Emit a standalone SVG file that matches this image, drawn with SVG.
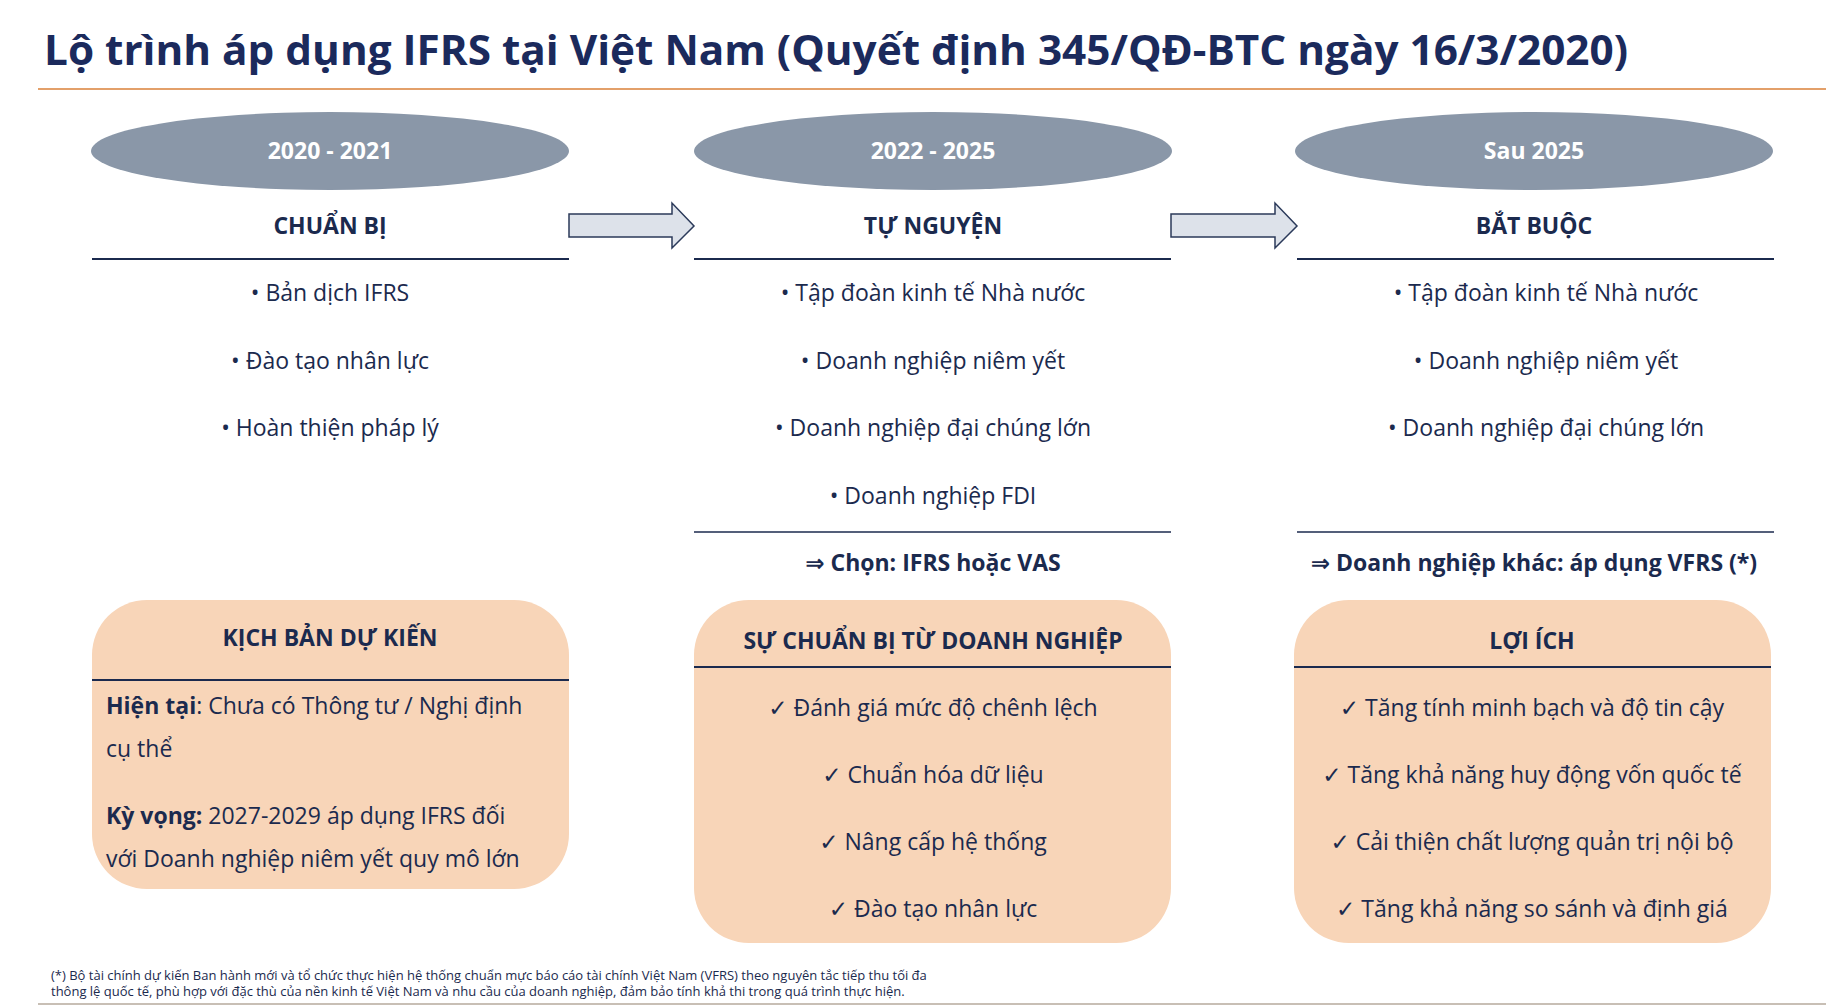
<svg xmlns="http://www.w3.org/2000/svg" width="1844" height="1006" viewBox="0 0 1844 1006">
<style>
text{font-family:"Open Sans","Noto Sans","DejaVu Sans",sans-serif;fill:#1B2A4E}
.t{font-size:42px;font-weight:700;fill:#1B2A5C}
.yr{font-size:23px;font-weight:700;fill:#fff;text-anchor:middle}
.h{font-size:23px;font-weight:700;text-anchor:middle}
.b{font-size:23px;text-anchor:middle}
.bl{font-size:23px}
.fn{font-size:13px}
.ell{fill:#8A97A8}
.box{fill:#F8D5B8}
.ln{stroke:#1B2A4E;stroke-width:2}
.arr{fill:#DDE2EA;stroke:#2B3A5A;stroke-width:1.5}
</style>
<text class="t" x="44" y="65" textLength="1584" lengthAdjust="spacingAndGlyphs">Lộ trình áp dụng IFRS tại Việt Nam (Quyết định 345/QĐ-BTC ngày 16/3/2020)</text>
<line x1="38" y1="89" x2="1826" y2="89" stroke="#E3A06A" stroke-width="2"/>

<g id="connectors">
<path class="arr" d="M569 214 H672 V203 L694 226 L672 248 V237 H569 Z"/>
<path class="arr" d="M1171 214 H1275 V203 L1297 226 L1275 248 V237 H1171 Z"/>
</g>

<g id="col1">
<ellipse class="ell" cx="330" cy="151" rx="239" ry="39"/>
<text class="yr" x="330" y="159">2020 - 2021</text>
<text class="h" x="330" y="234">CHUẨN BỊ</text>
<line class="ln" x1="92" y1="259" x2="569" y2="259"/>
<text class="b" x="330" y="301">•   Bản dịch IFRS</text>
<text class="b" x="330" y="369">•   Đào tạo nhân lực</text>
<text class="b" x="330" y="436">•   Hoàn thiện pháp lý</text>
</g>
<g id="col2">
<ellipse class="ell" cx="933" cy="151" rx="239" ry="39"/>
<text class="yr" x="933" y="159">2022 - 2025</text>
<text class="h" x="933" y="234">TỰ NGUYỆN</text>
<line class="ln" x1="694" y1="259" x2="1171" y2="259"/>
<text class="b" x="933" y="301">•   Tập đoàn kinh tế Nhà nước</text>
<text class="b" x="933" y="369">•   Doanh nghiệp niêm yết</text>
<text class="b" x="933" y="436">•   Doanh nghiệp đại chúng lớn</text>
<text class="b" x="933" y="504">•   Doanh nghiệp FDI</text>
<line x1="694" y1="532" x2="1171" y2="532" stroke="#1B2A4E" stroke-width="1.5"/>
<text class="h" x="933" y="571">⇒ Chọn: IFRS hoặc VAS</text>
</g>
<g id="col3">
<ellipse class="ell" cx="1534" cy="151" rx="239" ry="39"/>
<text class="yr" x="1534" y="159">Sau 2025</text>
<text class="h" x="1534" y="234">BẮT BUỘC</text>
<line class="ln" x1="1297" y1="259" x2="1774" y2="259"/>
<text class="b" x="1546" y="301">•   Tập đoàn kinh tế Nhà nước</text>
<text class="b" x="1546" y="369">•   Doanh nghiệp niêm yết</text>
<text class="b" x="1546" y="436">•   Doanh nghiệp đại chúng lớn</text>
<line x1="1297" y1="532" x2="1774" y2="532" stroke="#1B2A4E" stroke-width="1.5"/>
<text class="h" x="1534" y="571">⇒ Doanh nghiệp khác: áp dụng VFRS (*)</text>
</g>

<g id="box1">
<rect class="box" x="92" y="600" width="477" height="289" rx="55"/>
<text class="h" x="330" y="646">KỊCH BẢN DỰ KIẾN</text>
<line class="ln" x1="92" y1="680" x2="569" y2="680"/>
<text class="bl" x="106" y="714"><tspan font-weight="700">Hiện tại</tspan>: Chưa có Thông tư / Nghị định</text>
<text class="bl" x="106" y="757">cụ thể</text>
<text class="bl" x="106" y="824"><tspan font-weight="700">Kỳ vọng:</tspan> 2027-2029 áp dụng IFRS đối</text>
<text class="bl" x="106" y="867">với Doanh nghiệp niêm yết quy mô lớn</text>
</g>
<g id="box2">
<rect class="box" x="694" y="600" width="477" height="343" rx="55"/>
<text class="h" x="933" y="649">SỰ CHUẨN BỊ TỪ DOANH NGHIỆP</text>
<line class="ln" x1="694" y1="667" x2="1171" y2="667"/>
<text class="b" x="933" y="716">✓ Đánh giá mức độ chênh lệch</text>
<text class="b" x="933" y="783">✓ Chuẩn hóa dữ liệu</text>
<text class="b" x="933" y="850">✓ Nâng cấp hệ thống</text>
<text class="b" x="933" y="917">✓ Đào tạo nhân lực</text>
</g>
<g id="box3">
<rect class="box" x="1294" y="600" width="477" height="343" rx="55"/>
<text class="h" x="1532" y="649">LỢI ÍCH</text>
<line class="ln" x1="1294" y1="667" x2="1771" y2="667"/>
<text class="b" x="1532" y="716">✓ Tăng tính minh bạch và độ tin cậy</text>
<text class="b" x="1532" y="783">✓ Tăng khả năng huy động vốn quốc tế</text>
<text class="b" x="1532" y="850">✓ Cải thiện chất lượng quản trị nội bộ</text>
<text class="b" x="1532" y="917">✓ Tăng khả năng so sánh và định giá</text>
</g>

<text class="fn" x="51" y="980">(*) Bộ tài chính dự kiến Ban hành mới và tổ chức thực hiện hệ thống chuẩn mực báo cáo tài chính Việt Nam (VFRS) theo nguyên tắc tiếp thu tối đa</text>
<text class="fn" x="51" y="996">thông lệ quốc tế, phù hợp với đặc thù của nền kinh tế Việt Nam và nhu cầu của doanh nghiệp, đảm bảo tính khả thi trong quá trình thực hiện.</text>
<line x1="38" y1="1004" x2="1826" y2="1004" stroke="#C8BFB5" stroke-width="2"/>
</svg>
